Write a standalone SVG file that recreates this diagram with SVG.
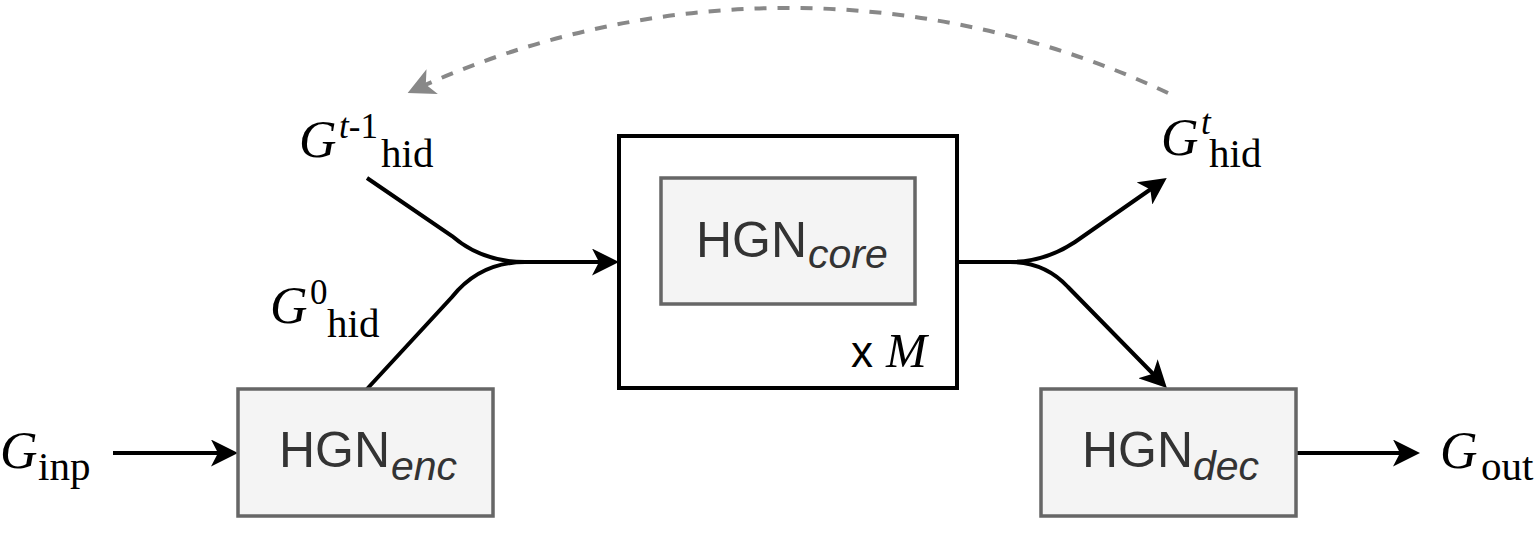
<svg xmlns="http://www.w3.org/2000/svg" width="1537" height="555" viewBox="0 0 1537 555">
<defs>
<marker id="arr" viewBox="0 0 27 27" refX="20" refY="13.5" markerWidth="27" markerHeight="27" orient="auto" markerUnits="userSpaceOnUse">
<path d="M0,0 L27,13.5 L0,27 L7,13.5 Z" fill="#000"/>
</marker>
<marker id="arrg" viewBox="0 0 27 27" refX="20" refY="13.5" markerWidth="27" markerHeight="27" orient="auto" markerUnits="userSpaceOnUse">
<path d="M0,0 L27,13.5 L0,27 L7,13.5 Z" fill="#888"/>
</marker>
<style>
.box{fill:#f4f4f4;stroke:#666;stroke-width:3.5}
.outer{fill:#fff;stroke:#000;stroke-width:4}
.hgn{font-family:"Liberation Sans",Arial,sans-serif;font-size:50px;fill:#333}
.sub{font-family:"Liberation Sans",Arial,sans-serif;font-size:41px;font-style:italic;fill:#333}
.g{font-family:"Liberation Serif","Times New Roman",serif;font-size:52px;font-style:italic;fill:#000}
.s{font-family:"Liberation Serif","Times New Roman",serif;font-size:41px;fill:#000}
.sup{font-family:"Liberation Serif","Times New Roman",serif;font-size:35px;fill:#000}
.edge{fill:none;stroke:#000;stroke-width:4}
.dash{fill:none;stroke:#888;stroke-width:4;stroke-dasharray:12 11}
</style>
</defs>
<rect width="1537" height="555" fill="#fff"/>
<g id="connectors">
<path class="edge" d="M113,453 L231,453" marker-end="url(#arr)"/>
<path class="edge" d="M367,389 L452,297 Q480,262 525,262 L612,262" marker-end="url(#arr)"/>
<path class="edge" d="M367,178 L452,236 Q482,262 525,262"/>
<path class="edge" d="M957,262 L1010,262 Q1045,262 1075,242 L1161,182" marker-end="url(#arr)"/>
<path class="edge" d="M1010,262 Q1045,262 1068,287 L1162,383" marker-end="url(#arr)"/>
<path class="edge" d="M1296,453 L1413,453" marker-end="url(#arr)"/>
<path class="dash" d="M1168,93 A892,892 0 0 0 414,90" marker-end="url(#arrg)"/>
</g>
<g id="core-block">
<rect class="outer" x="619" y="136" width="338" height="252"/>
<text x="851" y="367" style="font-family:'Liberation Sans',Arial,sans-serif;font-size:44px;fill:#000">x</text>
<text x="886" y="367" class="g" style="font-size:49px">M</text>
</g>
<g id="hgn-core">
<rect class="box" x="661" y="178" width="254" height="126"/>
<text class="hgn" x="696" y="257">HGN</text>
<text class="sub" x="808" y="268">core</text>
</g>
<g id="hgn-enc">
<rect class="box" x="238" y="389" width="255" height="127"/>
<text class="hgn" x="279" y="467">HGN</text>
<text class="sub" x="391" y="480">enc</text>
</g>
<g id="hgn-dec">
<rect class="box" x="1041" y="389" width="255" height="127"/>
<text class="hgn" x="1082" y="467">HGN</text>
<text class="sub" x="1193" y="480">dec</text>
</g>
<g id="g-inp">
<text class="g" x="0" y="468">G</text>
<text class="s" x="38" y="480">inp</text>
</g>
<g id="g-out">
<text class="g" x="1440" y="468">G</text>
<text class="s" x="1481" y="480">out</text>
</g>
<g id="g-hid-prev">
<text class="g" x="299" y="157">G</text>
<text class="sup" x="339" y="138"><tspan font-style="italic">t</tspan>-1</text>
<text class="s" x="381" y="167">hid</text>
</g>
<g id="g-hid-0">
<text class="g" x="270" y="323">G</text>
<text class="sup" x="310" y="304">0</text>
<text class="s" x="327" y="337">hid</text>
</g>
<g id="g-hid-t">
<text class="g" x="1161" y="155">G</text>
<text class="sup" x="1201" y="134" font-style="italic">t</text>
<text class="s" x="1209" y="167">hid</text>
</g>
</svg>
